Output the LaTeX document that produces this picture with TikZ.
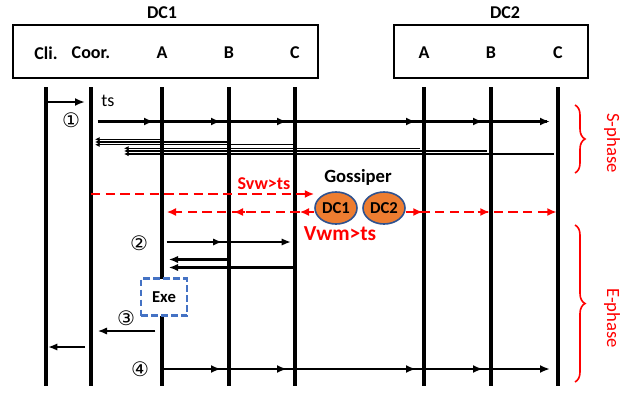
\documentclass[tikz,border=0pt]{standalone}
\usepackage{fontspec}
\setmainfont{Carlito}
\newfontfamily\circfont{DejaVu Sans}
\usetikzlibrary{arrows.meta,decorations.pathreplacing,shapes.geometric}
\definecolor{gossorange}{HTML}{ED7D31}
\definecolor{gossblue}{HTML}{2F528F}
\definecolor{exeblue}{HTML}{4472C4}
\tikzset{
  lbl/.style={font=\fontsize{13.5}{15}\selectfont\bfseries},
  txt/.style={font=\fontsize{13.5}{16}\selectfont},
  num/.style={font=\circfont\fontsize{15}{17}\selectfont},
  dcbox/.style={draw,line width=2pt},
  lifeline/.style={line width=2.6pt},
  msg/.style={line width=1.9pt,-{Latex[length=7.5pt,width=6pt]}},
  bus/.style={line width=1.9pt},
  tipbar/.style={line width=1.9pt,-{Latex[length=7.5pt,width=6pt]}},
  local/.style={line width=1.6pt,-{Latex[length=7pt,width=5.5pt]}},
  ack/.style={line width=1pt,-{Latex[length=3.5pt,width=3.5pt]}},
  reddash/.style={red,line width=2pt,dash pattern=on 7pt off 4pt},
  redtip/.style={red,line width=2pt,-{Latex[length=7pt,width=6pt]}},
  gossip/.style={ellipse,draw=gossblue,fill=gossorange,line width=1.2pt,inner sep=0pt,
    minimum width=31.5pt,minimum height=24pt,font=\fontsize{12.5}{14}\selectfont\bfseries},
  phase/.style={red,line width=1.2pt,decorate,decoration={brace,amplitude=7.5pt}},
  phaselbl/.style={red,rotate=-90,font=\fontsize{14}{16}\selectfont}
}
\begin{document}
\begin{tikzpicture}[x=0.75pt,y=-0.75pt]
\useasboundingbox (0,0) rectangle (634,393);
% data centres
\node[dcbox,minimum width=228.75pt,minimum height=39.75pt] (box1) at (165.5,51.5) {};
\node[dcbox,minimum width=145.5pt,minimum height=39.75pt] (box2) at (491,51.5) {};
\node[lbl] (dc1) at (162,13) {DC1};
\node[lbl] (dc2) at (505,13) {DC2};
\node[lbl] (cli) at (46,53) {Cli.};
\node[lbl] (coor) at (91,53) {Coor.};
\node[lbl] (a1) at (162,53) {A};
\node[lbl] (b1) at (229,53) {B};
\node[lbl] (c1) at (295,53) {C};
\node[lbl] (a2) at (424,53) {A};
\node[lbl] (b2) at (491,53) {B};
\node[lbl] (c2) at (558,53) {C};
% rows
\coordinate (top) at (0,87);
\coordinate (bot) at (0,386);
\coordinate (req) at (0,102);
\coordinate (bcast) at (0,121.5);
\coordinate (ack1) at (0,139.3);
\coordinate (ack2) at (0,142);
\coordinate (ack3) at (0,144.7);
\coordinate (ack4) at (0,148.3);
\coordinate (ack5) at (0,151);
\coordinate (ack6) at (0,154);
\coordinate (svw) at (0,194);
\coordinate (vwm) at (0,212);
\coordinate (prep) at (0,242);
\coordinate (vote1) at (0,259.5);
\coordinate (vote2) at (0,267.5);
\coordinate (reply) at (0,331);
\coordinate (resp) at (0,347);
\coordinate (commit) at (0,369);
\coordinate (agg) at (124,0);
% lifelines
\foreach \n in {cli,coor,a1,b1,c1,a2,b2,c2}
  \draw[lifeline] (\n |- top) -- (\n |- bot);
% S-phase
\draw[msg] ([xshift=1.5pt]cli |- req) -- ([xshift=-4.5pt]coor |- req);
\node[txt] (tsl) at (108,101) {ts};
\node[num] (n1) at (71,120) {①};
\draw[bus] ([xshift=5pt]coor |- bcast) -- ([xshift=-8pt]c2 |- bcast);
\foreach \t in {a1,b1,c1,a2,b2,c2}
  \draw[tipbar] ([xshift=-16pt]\t |- bcast) -- ([xshift=-6pt]\t |- bcast);
\foreach \s/\r in {a1/ack1,b1/ack2,c1/ack3}
  \draw[ack] (\s |- \r) -- ([xshift=3pt]coor |- \r);
\foreach \s/\r in {a2/ack4,b2/ack5,c2/ack6}
  \draw[ack] ([xshift=-3pt]\s |- \r) -- (agg |- \r);
% gossiper
\node[gossip] (gd1) at (336,208) {DC1};
\node[gossip] (gd2) at (384,208) {DC2};
\node[lbl,font=\fontsize{14}{16}\selectfont\bfseries] (gos) at (358,177) {Gossiper};
\draw[reddash] (coor |- svw) -- ([xshift=-6pt]gd1.west |- svw);
\draw[redtip] ([xshift=-8pt]gd1.west |- svw) -- (gd1.west |- svw);
\node[lbl,red] (sv) at (264,184) {Svw>ts};
\draw[reddash] (gd1.west |- vwm) -- ([xshift=8pt]a1 |- vwm);
\foreach \t in {c1,b1,a1}
  \draw[redtip] ([xshift=12pt]\t |- vwm) -- ([xshift=3.5pt]\t |- vwm);
\draw[reddash] (gd2.east |- vwm) -- ([xshift=-6pt]c2 |- vwm);
\foreach \t in {a2,b2,c2}
  \draw[redtip] ([xshift=-10pt]\t |- vwm) -- ([xshift=-1pt]\t |- vwm);
\node[red,font=\fontsize{16}{18}\selectfont\bfseries] (vw) at (340,234) {Vwm>ts};
% E-phase
\node[num] (n2) at (139,243) {②};
\draw[local] ([xshift=3.5pt]a1 |- prep) -- ([xshift=-3pt]c1 |- prep);
\draw[local] ([xshift=-14pt]b1 |- prep) -- ([xshift=-5pt]b1 |- prep);
\draw[local] (b1 |- vote1) -- ([xshift=5pt]a1 |- vote1);
\draw[local] (c1 |- vote2) -- ([xshift=5pt]a1 |- vote2);
\node[draw=exeblue,dash pattern=on 5pt off 2.5pt,line width=1.8pt,fill=white,minimum width=34.5pt,minimum height=27.75pt,
  font=\fontsize{12.5}{15}\selectfont\bfseries] (exe) at (164,297) {Exe};
\node[num] (n3) at (126,318) {③};
\draw[local] ([xshift=-5pt]a1 |- reply) -- ([xshift=5pt]coor |- reply);
\draw[local] ([xshift=-4.5pt]coor |- resp) -- ([xshift=1.5pt]cli |- resp);
\node[num] (n4) at (140,369) {④};
\draw[bus] (a1 |- commit) -- ([xshift=-8pt]c2 |- commit);
\foreach \t in {b1,c1,a2,b2,c2}
  \draw[tipbar] ([xshift=-16pt]\t |- commit) -- ([xshift=-6pt]\t |- commit);
% phases
\draw[phase] (575,105) -- (575,173);
\node[phaselbl] (sph) at (612,143) {S-phase};
\draw[phase] (575,225) -- (575,382);
\node[phaselbl] (eph) at (612,318) {E-phase};
\end{tikzpicture}
\end{document}
